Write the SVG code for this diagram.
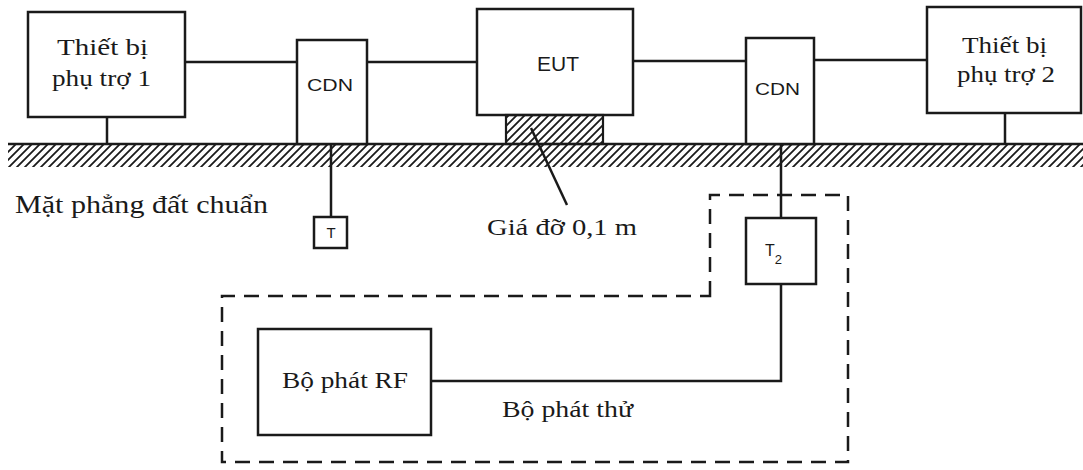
<svg xmlns="http://www.w3.org/2000/svg" width="1083" height="470" viewBox="0 0 1083 470">
<style>
.box{fill:#fff;stroke:#1a1a1a;stroke-width:2.5}
.ln{stroke:#1a1a1a;stroke-width:2.5;fill:none}
.dash{stroke:#1a1a1a;stroke-width:2.5;fill:none;stroke-dasharray:15 9}
.serif{font-family:"Liberation Serif","DejaVu Serif",serif;fill:#1a1a1a}
.sans{font-family:"Liberation Sans","DejaVu Sans",sans-serif;fill:#1a1a1a}
</style>
<defs>
<pattern id="hatch" width="8" height="8" patternUnits="userSpaceOnUse">
<path d="M-2,2 l4,-4 M0,8 l8,-8 M6,10 l4,-4" stroke="#1a1a1a" stroke-width="1.8"/>
</pattern>
</defs>
<rect width="1083" height="470" fill="#fff"/>
<g id="ground">
<rect x="8" y="144" width="1075" height="23" fill="url(#hatch)"/>
<line x1="8" y1="144" x2="1083" y2="144" class="ln"/>
</g>
<g id="connectors">
<line class="ln" x1="185" y1="62" x2="297" y2="62"/>
<line class="ln" x1="367" y1="62" x2="477" y2="62"/>
<line class="ln" x1="633" y1="61" x2="746" y2="61"/>
<line class="ln" x1="814" y1="60" x2="927" y2="60"/>
<line class="ln" x1="107" y1="117" x2="107" y2="144"/>
<line class="ln" x1="1005" y1="113" x2="1005" y2="144"/>
<line class="ln" x1="331" y1="114" x2="331" y2="217"/>
<line class="ln" x1="781" y1="114" x2="781" y2="218"/>
<polyline class="ln" points="781,284 781,381 431,381"/>
<line class="ln" x1="531" y1="128" x2="567" y2="205" stroke-width="2"/>
</g>
<g id="test-generator-region">
<path class="dash" d="M710,296 L710,195 L848,195 L848,462 L222,462 L222,296 Z"/>
</g>
<g id="aux1">
<rect class="box" x="28" y="12" width="157" height="105"/>
<text class="serif" x="57" y="55" font-size="24" textLength="91" lengthAdjust="spacingAndGlyphs">Thiết bị</text>
<text class="serif" x="52" y="86" font-size="24" textLength="99" lengthAdjust="spacingAndGlyphs">phụ trợ 1</text>
</g>
<g id="cdn1">
<rect class="box" x="297" y="40" width="70" height="104"/>
<text class="sans" x="307" y="91" font-size="17" textLength="46" lengthAdjust="spacingAndGlyphs">CDN</text>
</g>
<g id="eut">
<rect class="box" x="477" y="9" width="156" height="106"/>
<text class="sans" x="558" y="71" font-size="21" text-anchor="middle">EUT</text>
</g>
<g id="support">
<rect x="506" y="115" width="97" height="29" fill="url(#hatch)" stroke="#1a1a1a" stroke-width="2.2"/>
</g>
<g id="cdn2">
<rect class="box" x="746" y="38" width="68" height="106"/>
<text class="sans" x="755" y="95" font-size="17" textLength="45" lengthAdjust="spacingAndGlyphs">CDN</text>
</g>
<g id="aux2">
<rect class="box" x="927" y="7" width="154" height="106"/>
<text class="serif" x="962" y="53" font-size="24" textLength="85" lengthAdjust="spacingAndGlyphs">Thiết bị</text>
<text class="serif" x="957" y="82" font-size="24" textLength="98" lengthAdjust="spacingAndGlyphs">phụ trợ 2</text>
</g>
<g id="t1">
<rect class="box" x="314" y="217" width="33" height="31"/>
<text class="sans" x="331" y="238" font-size="15" text-anchor="middle">T</text>
</g>
<g id="t2">
<rect class="box" x="746" y="218" width="70" height="66"/>
<text class="sans" x="765" y="256" font-size="16">T<tspan font-size="13" dy="8">2</tspan></text>
</g>
<g id="rf">
<rect class="box" x="258" y="329" width="173" height="106"/>
<text class="serif" x="282" y="388" font-size="24" textLength="126" lengthAdjust="spacingAndGlyphs">Bộ phát RF</text>
</g>
<text class="serif" x="502" y="417" font-size="24" textLength="131" lengthAdjust="spacingAndGlyphs">Bộ phát thử</text>
<text class="serif" x="15" y="213" font-size="26" textLength="253" lengthAdjust="spacingAndGlyphs">Mặt phẳng đất chuẩn</text>
<text class="serif" x="487" y="235" font-size="24" textLength="150" lengthAdjust="spacingAndGlyphs">Giá đỡ 0,1 m</text>
</svg>
